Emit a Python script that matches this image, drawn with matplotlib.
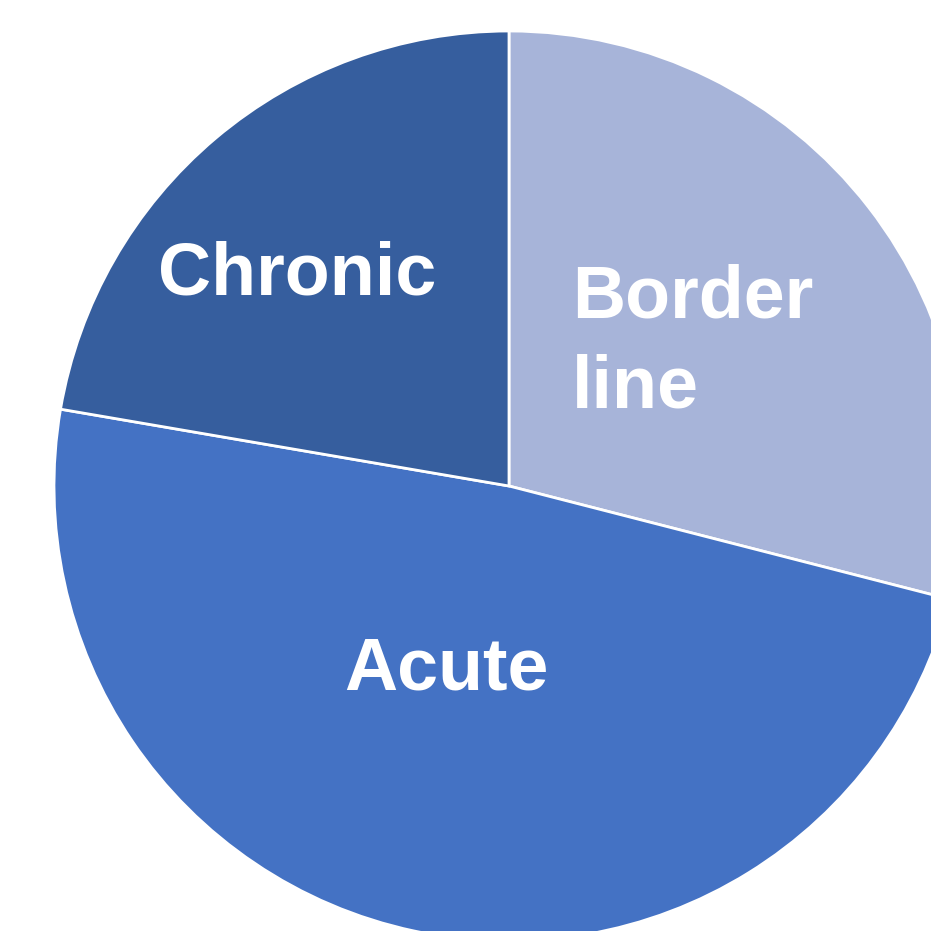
import matplotlib.pyplot as plt

labels = ['Border\nline', 'Acute', 'Chronic']
shares = [29.0, 48.7, 22.3]
colors = ['#A7B4D9', '#4472C4', '#365E9E']

W = H = 931
cx, cy, r = 509, 486, 455

fig = plt.figure(figsize=(9.31, 9.31), dpi=100)
# axes placed so the pie centre / radius land where they do in the source (cropped at right and bottom)
ax = fig.add_axes([(cx - r) / W, (H - cy - r) / H, 2 * r / W, 2 * r / H])
wedges, _ = ax.pie(shares, colors=colors, startangle=90, counterclock=False,
                   radius=1, wedgeprops=dict(edgecolor='white', linewidth=2))
ax.set_xlim(-1, 1)
ax.set_ylim(-1, 1)
ax.set_aspect('equal')
ax.axis('off')

font = dict(family=['Liberation Sans', 'DejaVu Sans'], fontweight='bold', color='white', fontsize=53)


def px(x, y):
    return ((x - cx) / r, (cy - y) / r)


# positions are text baselines (last line for multi-line)
ax.text(*px(297, 294), labels[2], ha='center', va='baseline', **font)
ax.text(*px(572, 407), labels[0], ha='left', va='baseline', linespacing=1.38, **font)
ax.text(*px(446, 690), labels[1], ha='center', va='baseline', **font)

plt.savefig('out.png', dpi=100)
